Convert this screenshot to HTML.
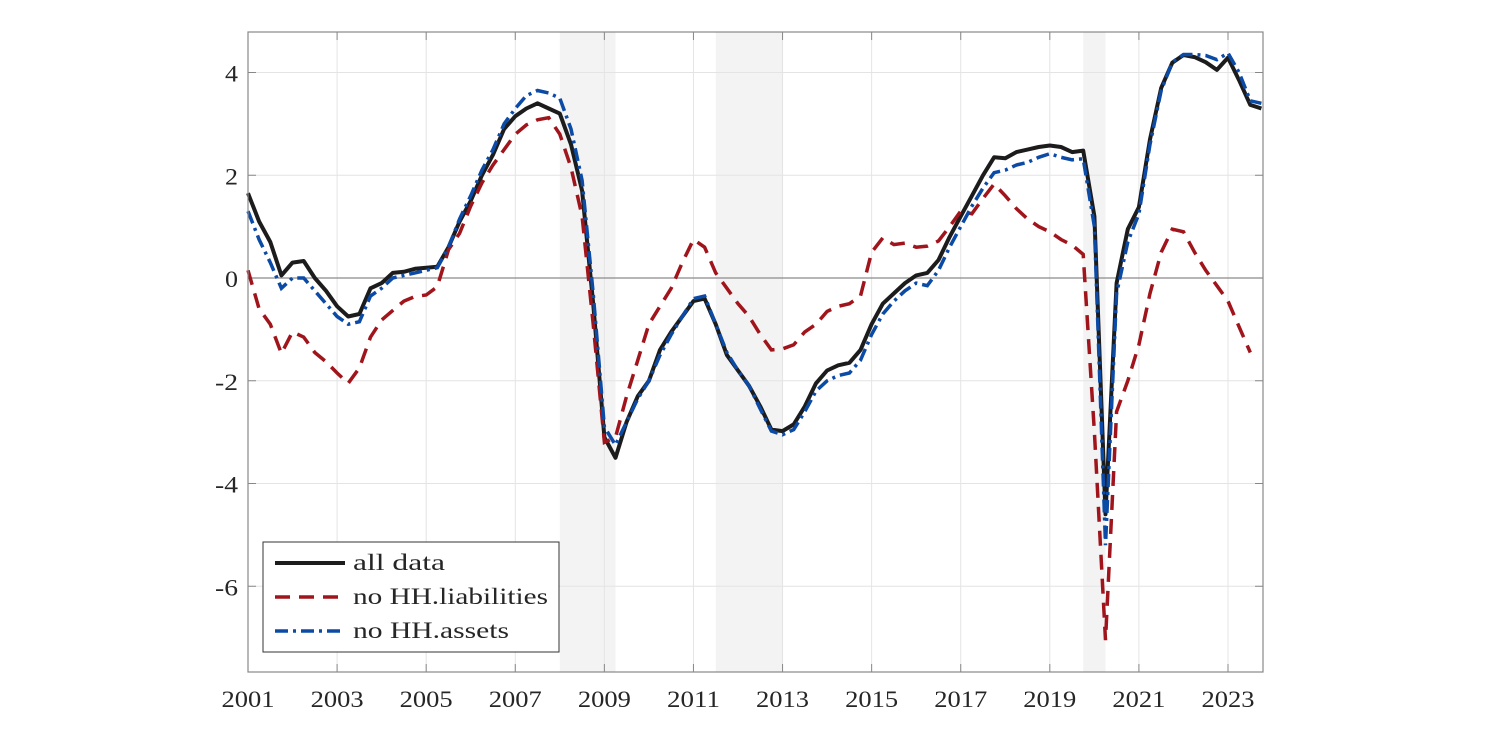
<!DOCTYPE html>
<html><head><meta charset="utf-8"><style>
html,body{margin:0;padding:0;background:#fff;}
svg text{font-family:"Liberation Serif",serif;}
</style></head><body>
<svg id="chart" width="1500" height="741" viewBox="0 0 1500 741" xmlns="http://www.w3.org/2000/svg"></svg>
<script>
const startYear = 2001;
const recessions = [[2008.0, 2009.25], [2011.5, 2013.0], [2019.75, 2020.25]];
const xTicks = [2001,2003,2005,2007,2009,2011,2013,2015,2017,2019,2021,2023];
const yTicks = [4,2,0,-2,-4,-6];
const allData = [1.65,1.1,0.7,0.05,0.3,0.33,0.0,-0.25,-0.55,-0.75,-0.7,-0.2,-0.1,0.1,0.12,0.18,0.2,0.22,0.6,1.1,1.5,2.0,2.4,2.9,3.15,3.3,3.4,3.3,3.2,2.6,1.7,-0.5,-3.1,-3.5,-2.8,-2.3,-2.0,-1.4,-1.05,-0.75,-0.45,-0.4,-0.9,-1.5,-1.8,-2.1,-2.5,-2.95,-2.98,-2.85,-2.5,-2.05,-1.8,-1.7,-1.65,-1.4,-0.9,-0.5,-0.3,-0.1,0.05,0.1,0.35,0.8,1.2,1.6,2.0,2.35,2.33,2.45,2.5,2.55,2.58,2.55,2.45,2.48,1.2,-4.6,-0.1,0.95,1.38,2.7,3.7,4.19,4.34,4.3,4.2,4.05,4.29,3.85,3.37,3.3];
const noLiab = [0.15,-0.6,-0.9,-1.47,-1.05,-1.15,-1.45,-1.63,-1.85,-2.05,-1.75,-1.15,-0.82,-0.63,-0.45,-0.36,-0.33,-0.17,0.55,0.87,1.4,1.85,2.2,2.5,2.8,2.98,3.08,3.12,2.8,2.15,1.2,-0.9,-3.2,-3.1,-2.3,-1.6,-0.9,-0.55,-0.2,0.3,0.75,0.6,0.1,-0.2,-0.5,-0.75,-1.1,-1.4,-1.38,-1.3,-1.05,-0.9,-0.65,-0.55,-0.5,-0.35,0.5,0.78,0.65,0.68,0.6,0.62,0.72,1.0,1.3,1.25,1.55,1.83,1.6,1.35,1.15,1.0,0.9,0.75,0.64,0.46,-3.0,-7.05,-2.6,-2.0,-1.3,-0.3,0.5,0.95,0.9,0.5,0.15,-0.15,-0.45,-0.95,-1.45,null];
const noAssets = [1.3,0.75,0.3,-0.2,0.0,0.0,-0.25,-0.5,-0.75,-0.9,-0.85,-0.35,-0.2,0.0,0.05,0.1,0.15,0.2,0.6,1.15,1.6,2.1,2.5,3.0,3.3,3.55,3.65,3.6,3.5,2.9,1.9,-0.3,-2.9,-3.25,-2.8,-2.35,-2.0,-1.5,-1.1,-0.75,-0.4,-0.35,-0.9,-1.45,-1.8,-2.1,-2.55,-2.98,-3.05,-2.95,-2.6,-2.2,-2.0,-1.9,-1.85,-1.6,-1.1,-0.7,-0.45,-0.25,-0.1,-0.15,0.15,0.6,1.0,1.4,1.75,2.05,2.1,2.2,2.25,2.35,2.42,2.35,2.3,2.32,1.0,-5.2,-0.3,0.7,1.25,2.6,3.65,4.2,4.35,4.35,4.33,4.25,4.38,4.0,3.45,3.4];

const L=248,R=1263,T=32,B=672;
const X = t => L + (t-2001)*(980/22);
const Y = v => 278 - v*(205.5/4);
const svg = document.getElementById('chart');
const NS='http://www.w3.org/2000/svg';
function mk(tag, attrs, parent){const e=document.createElementNS(NS,tag);for(const k in attrs)e.setAttribute(k,attrs[k]);(parent||svg).appendChild(e);return e;}

const plot = mk('g',{});


mk('rect',{x:L,y:T,width:R-L,height:B-T,fill:'#fff'},plot);
recessions.forEach(r=>{
  const e=mk('rect',{x:X(r[0]),y:T,width:X(r[1])-X(r[0]),height:B-T,fill:'#f3f3f3'},plot);
  
  
});
xTicks.forEach(t=>{
  const g=mk('line',{x1:X(t),x2:X(t),y1:T,y2:B,stroke:'#e4e4e4','stroke-width':1},plot);
  
  
  mk('line',{x1:X(t),x2:X(t),y1:B,y2:B-8,stroke:'#888','stroke-width':1},plot);
  mk('line',{x1:X(t),x2:X(t),y1:T,y2:T+8,stroke:'#888','stroke-width':1},plot);
  const tx=mk('text',{x:X(t),y:B+35,'text-anchor':'middle','font-size':23,fill:'#262626',textLength:53,lengthAdjust:'spacingAndGlyphs'},svg);
  tx.textContent=t;
  
  
});
yTicks.forEach(v=>{
  const g=mk('line',{x1:L,x2:R,y1:Y(v),y2:Y(v),stroke:v===0?'#8a8a8a':'#e4e4e4','stroke-width':v===0?1.3:1},plot);
  
  
  mk('line',{x1:L,x2:L+8,y1:Y(v),y2:Y(v),stroke:'#888','stroke-width':1},plot);
  mk('line',{x1:R,x2:R-8,y1:Y(v),y2:Y(v),stroke:'#888','stroke-width':1},plot);
  const tx=mk('text',{x:L-10,y:Y(v)+9,'text-anchor':'end','font-size':23,fill:'#262626',textLength:(v<0?23:13),lengthAdjust:'spacingAndGlyphs'},svg);
  tx.textContent=v;
  
  
});
function pathFor(arr){
  let d='';let pen=false;
  arr.forEach((v,i)=>{if(v===null){pen=false;return;}const t=startYear+i*0.25;d+=(pen?'L':'M')+X(t).toFixed(1)+','+Y(v).toFixed(1);pen=true;});
  return d;
}
const s1=mk('path',{d:pathFor(allData),fill:'none',stroke:'#1c1c1c','stroke-width':4,'stroke-linejoin':'round'},plot);


const s2=mk('path',{d:pathFor(noLiab),fill:'none',stroke:'#a0151b','stroke-width':3.5,'stroke-dasharray':'15 9'},plot);


const s3=mk('path',{d:pathFor(noAssets),fill:'none',stroke:'#0b4aa5','stroke-width':3.5,'stroke-dasharray':'13 5 3 5'},plot);


const frame=mk('rect',{x:L,y:T,width:R-L,height:B-T,fill:'none',stroke:'#888','stroke-width':1.2},plot);



const leg=mk('g',{});


mk('rect',{x:263,y:542,width:296,height:110,fill:'#fff',stroke:'#333','stroke-width':1},leg);
const entries=[['all data','#1c1c1c',4,'',92],['no HH.liabilities','#a0151b',3.5,'15 9',195],['no HH.assets','#0b4aa5',3.5,'13 5 3 5',156]];
entries.forEach((e,i)=>{
  const y=563+i*34;
  const g=mk('g',{},leg);
  
  
  const a={x1:275,x2:345,y1:y,y2:y,stroke:e[1],'stroke-width':e[2]};
  if(e[3])a['stroke-dasharray']=e[3];
  mk('line',a,g);
  const tx=mk('text',{x:353,y:y+7,'font-size':23,fill:'#262626',textLength:e[4],lengthAdjust:'spacingAndGlyphs'},g);
  tx.textContent=e[0];
});
</script>
</body></html>
